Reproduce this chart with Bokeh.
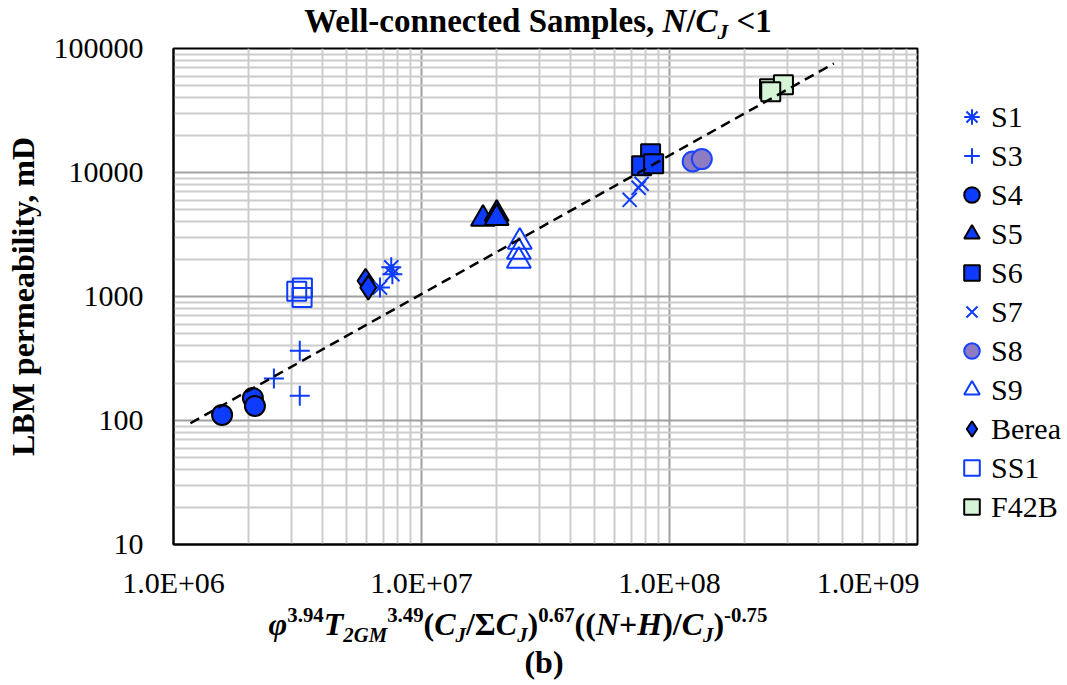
from bokeh.plotting import figure
from bokeh.models import FixedTicker, Legend, LegendItem, Div, Range1d
from bokeh.layouts import column, row
from bokeh.embed import file_html
from bokeh.resources import INLINE

FONT = "Liberation Serif"

# ---------------- data ----------------
s1_x = [7.55e6, 7.63e6, 6.80e6]
s1_y = [1720, 1515, 1180]
s3_x = [3.23e6, 2.54e6, 3.23e6]
s3_y = [365, 218, 158]
s4_x = [1.57e6, 2.09e6, 2.13e6]
s4_y = [111, 152, 131]
s5_x = [1.77e7, 2.01e7, 2.01e7]
s5_y = [4230, 4650, 4300]
s6_x = [8.39e7, 7.72e7, 8.63e7]
s6_y = [14150, 11320, 11750]
s7_x = [6.91e7, 7.51e7, 7.72e7]
s7_y = [6020, 7530, 8110]
s8_x = [1.24e8, 1.35e8]
s8_y = [12270, 12820]
s9_x = [2.49e7, 2.47e7, 2.47e7]
s9_y = [2760, 2290, 1940]
berea_x = [5.95e6, 6.10e6]
berea_y = [1340, 1180]
ss1_x = [3.14e6, 3.31e6, 3.30e6]
ss1_y = [1100, 1170, 980]
f42b_x = [2.53e8, 2.88e8, 2.56e8]
f42b_y = [47300, 51000, 44800]
trend_x = [1.17e6, 4.6e8]
trend_y = [95, 75700]

x_ticks = [1e6, 1e7, 1e8, 1e9]
x_tick_labels = ["1.0E+06", "1.0E+07", "1.0E+08", "1.0E+09"]
y_ticks = [10, 100, 1000, 10000, 100000]
y_tick_labels = ["10", "100", "1000", "10000", "100000"]
series_names = ["S1", "S3", "S4", "S5", "S6", "S7", "S8", "S9", "Berea", "SS1", "F42B"]

# ---------------- layout geometry (canvas pixels) ----------------
W = 1067
TOP_H = 30          # title strip
MAIN_H = 574        # main chart row
BOT_H = 685 - TOP_H - MAIN_H
FL, FR, FT, FB = 173, 917, 48, 544   # frame in canvas coords
P_W = FR + 2
L_W = W - P_W
BORDER_TOP = FT - TOP_H
BORDER_BOT = TOP_H + MAIN_H - FB

p = figure(width=P_W, height=MAIN_H, x_axis_type="log", y_axis_type="log",
           x_range=(1e6, 1e9), y_range=(10, 1e5),
           output_backend="svg", toolbar_location=None,
           min_border_left=FL, min_border_right=2,
           min_border_top=BORDER_TOP, min_border_bottom=BORDER_BOT)
p.background_fill_color = "white"
p.border_fill_color = None
p.outline_line_color = "black"
p.outline_line_width = 2

x_minor = [k * 10 ** n for n in range(6, 9) for k in range(2, 10)]
y_minor = [k * 10 ** n for n in range(1, 5) for k in range(2, 10)]
p.xaxis.ticker = FixedTicker(ticks=x_ticks, minor_ticks=x_minor)
p.yaxis.ticker = FixedTicker(ticks=y_ticks, minor_ticks=y_minor)
p.xaxis.major_label_overrides = {t: l for t, l in zip(x_ticks, x_tick_labels)}
p.yaxis.major_label_overrides = {t: l for t, l in zip(y_ticks, y_tick_labels)}

for ax in (p.xaxis, p.yaxis):
    ax.major_tick_out = 0
    ax.major_tick_in = 0
    ax.minor_tick_out = 0
    ax.minor_tick_in = 0
    ax.axis_line_color = "black"
    ax.axis_line_width = 2
    ax.major_label_text_font = FONT
    ax.major_label_text_font_size = "30px"
    ax.major_label_text_color = "black"
p.xaxis.major_label_standoff = 21
p.yaxis.major_label_standoff = 30

p.yaxis.axis_label = "LBM permeability, mD"
p.yaxis.axis_label_text_font = FONT
p.yaxis.axis_label_text_font_style = "bold"
p.yaxis.axis_label_text_font_size = "32px"
p.yaxis.axis_label_text_color = "black"
p.yaxis.axis_label_standoff = 10

for g in (p.xgrid, p.ygrid):
    g.grid_line_color = "#A0A0A0"
    g.grid_line_width = 2
    g.minor_grid_line_color = "#CCCCCC"
    g.minor_grid_line_width = 2

BLUE = "#0D3BFF"
STYLES = [
    dict(marker="asterisk", size=20, line_color=BLUE, line_width=2),
    dict(marker="cross", size=20, line_color=BLUE, line_width=2),
    dict(marker="circle", size=20, fill_color=BLUE, line_color="black", line_width=2),
    dict(marker="triangle", size=24, fill_color=BLUE, line_color="black", line_width=2),
    dict(marker="square", size=19, fill_color=BLUE, line_color="black", line_width=2),
    dict(marker="x", size=20, line_color=BLUE, line_width=2),
    dict(marker="circle", size=20, fill_color="#8E7CC3", line_color="#1A44FF", line_width=2),
    dict(marker="triangle", size=24, fill_color=None, line_color=BLUE, line_width=2),
    dict(marker="diamond", size=24, fill_color=BLUE, line_color="black", line_width=2),
    dict(marker="square", size=19, fill_color=None, line_color=BLUE, line_width=2),
    dict(marker="square", size=19, fill_color="#D6F5D6", line_color="black", line_width=2),
]
series_x = [s1_x, s3_x, s4_x, s5_x, s6_x, s7_x, s8_x, s9_x, berea_x, ss1_x, f42b_x]
series_y = [s1_y, s3_y, s4_y, s5_y, s6_y, s7_y, s8_y, s9_y, berea_y, ss1_y, f42b_y]

for xs, ys, st in zip(series_x, series_y, STYLES):
    p.scatter(xs, ys, **st)

p.line(trend_x, trend_y, line_color="black", line_width=2.5, line_dash="10 6")

# ---------------- legend panel (to the right of the chart) ----------------
# same series, drawn again only to key the legend (they fall outside this panel's view)
lf = figure(width=L_W, height=MAIN_H, x_range=Range1d(0, 1), y_range=Range1d(0, 1),
            output_backend="svg", toolbar_location=None,
            x_axis_location=None, y_axis_location=None,
            min_border_left=0, min_border_right=0,
            min_border_top=BORDER_TOP, min_border_bottom=BORDER_BOT)
lf.outline_line_color = None
lf.background_fill_color = None
lf.border_fill_color = None
lf.xgrid.visible = False
lf.ygrid.visible = False
legend_rends = [lf.scatter(xs, ys, **st) for xs, ys, st in zip(series_x, series_y, STYLES)]
legend = Legend(items=[LegendItem(label=n, renderers=[r]) for n, r in zip(series_names, legend_rends)],
                location=(952 - FR - 2, FB - 526), orientation="vertical",
                glyph_width=39, glyph_height=39, label_standoff=0, spacing=0,
                padding=0, margin=0, border_line_color=None, background_fill_alpha=0,
                label_text_font=FONT, label_text_font_size="30px", label_text_color="black",
                label_text_baseline="middle")
lf.add_layout(legend)

# ---------------- rich text strips (title above, axis title below) ----------------
BASE = "font-family:'Liberation Serif';font-weight:bold;color:black;white-space:nowrap;line-height:1;"
SUB = '<span style="font-size:0.65em;vertical-align:-7px;line-height:0">{}</span>'
SUP = '<span style="font-size:0.65em;vertical-align:13px;line-height:0">{}</span>'

title_html = ("Well-connected Samples, <i>N</i>/<i>C" + SUB.format("J") + "</i> &lt;1")
xlabel_html = ("<i>&phi;</i>" + SUP.format("3.94") + "<i>T" + SUB.format("2GM") + "</i>" + SUP.format("3.49")
               + "(<i>C" + SUB.format("J") + "</i>/&Sigma;<i>C" + SUB.format("J") + "</i>)" + SUP.format("0.67")
               + "((<i>N</i>+<i>H</i>)/<i>C" + SUB.format("J") + "</i>)" + SUP.format("-0.75"))


def placed(html, cx, top, size):
    return (f'<div style="position:absolute;left:{cx}px;top:{top}px;transform:translateX(-50%);'
            f'font-size:{size}px;{BASE}">{html}</div>')


top_div = Div(width=W, height=TOP_H, margin=0, styles={"overflow": "visible", "z-index": "5"},
              text=f'<div style="position:relative;width:{W}px;height:{TOP_H}px;overflow:visible;">'
                   + placed(title_html, 538, 5, 33) + '</div>')
bot_div = Div(width=W, height=BOT_H, margin=0,
              text=f'<div style="position:relative;width:{W}px;height:{BOT_H}px;">'
                   + placed(xlabel_html, 518, 635 - (TOP_H + MAIN_H) - 27, 32)
                   + placed("(b)", 544, 673 - (TOP_H + MAIN_H) - 27, 32) + '</div>')

layout = column(top_div, row(p, lf, spacing=0), bot_div, spacing=0)
open("out.html", "w").write(file_html(layout, INLINE))
